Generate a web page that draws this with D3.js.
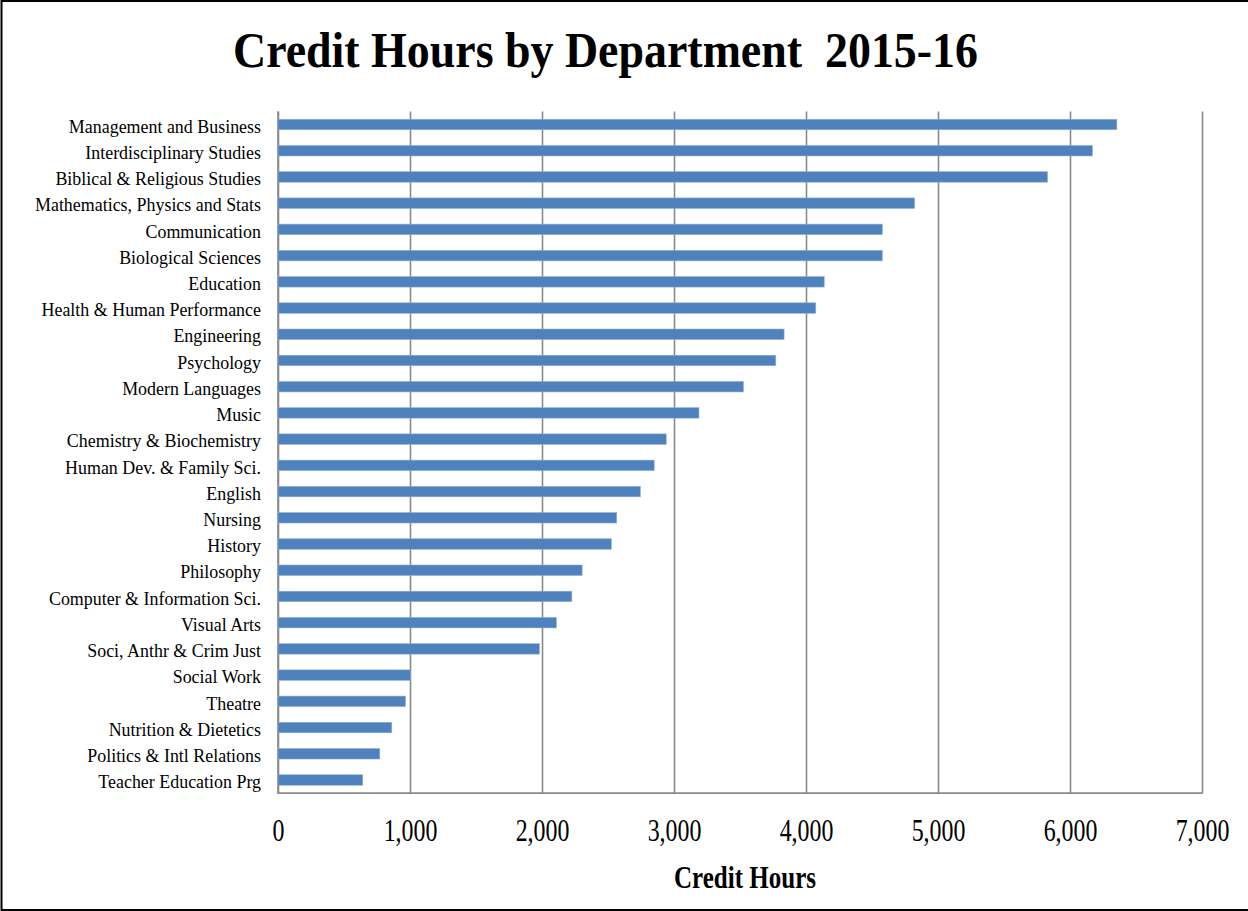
<!DOCTYPE html>
<html>
<head>
<meta charset="utf-8">
<script src="https://cdn.jsdelivr.net/npm/d3@7"></script>
<style>
  html, body { margin: 0; padding: 0; background: #fff; }
  svg { display: block; }
</style>
</head>
<body>
<svg id="chart" width="1248" height="911"></svg>
<script>
const categories = [
  "Management and Business",
  "Interdisciplinary Studies",
  "Biblical & Religious Studies",
  "Mathematics, Physics and Stats",
  "Communication",
  "Biological Sciences",
  "Education",
  "Health & Human Performance",
  "Engineering",
  "Psychology",
  "Modern Languages",
  "Music",
  "Chemistry & Biochemistry",
  "Human Dev. & Family Sci.",
  "English",
  "Nursing",
  "History",
  "Philosophy",
  "Computer & Information Sci.",
  "Visual Arts",
  "Soci, Anthr & Crim Just",
  "Social Work",
  "Theatre",
  "Nutrition & Dietetics",
  "Politics & Intl Relations",
  "Teacher Education Prg"
];
const creditHours = [
  6355, 6170, 5830, 4823, 4578, 4578, 4138, 4074, 3834, 3771, 3526,
  3189, 2941, 2850, 2745, 2566, 2525, 2304, 2226, 2109, 1980,
  1004, 966, 862, 771, 642
];
const xTicks = [0, 1000, 2000, 3000, 4000, 5000, 6000, 7000];
const titleText = "Credit Hours by Department\u00A0\u00A02015-16";
const xAxisTitle = "Credit Hours";

(function () {
const svg = d3.select("#chart");
const pLeft = 278, pRight = 1202, pTop = 111.4, pBottom = 793.1;

// frame
svg.append("rect")
  .attr("x", 1.5).attr("y", 1).attr("width", 1248).attr("height", 909)
  .attr("fill", "#fff").attr("stroke", "#000").attr("stroke-width", 2);

const x = d3.scaleLinear().domain([0, 7000]).range([pLeft, pRight]);
const y = d3.scaleBand().domain(categories).range([pTop, pBottom]).paddingInner(0.6).paddingOuter(0.3);

// gridlines + bottom tick labels
const gx = svg.append("g")
  .attr("transform", `translate(0,${pBottom})`)
  .call(d3.axisBottom(x).tickValues(xTicks).tickSize(-(pBottom - pTop)).tickPadding(0).tickFormat(d3.format(",")));
gx.select(".domain").remove();
gx.selectAll(".tick line").attr("stroke", "#8a8a8a").attr("stroke-width", 1.6);
gx.selectAll(".tick text")
  .attr("fill", "#000")
  .attr("font-family", "'Liberation Serif', 'Times New Roman', serif")
  .attr("font-size", 31)
  .attr("y", 47.5).attr("dy", 0)
  .attr("transform", "scale(0.77,1)");

// axis lines
svg.append("line").attr("x1", pLeft).attr("x2", pLeft).attr("y1", pTop).attr("y2", pBottom + 0.8)
  .attr("stroke", "#8a8a8a").attr("stroke-width", 1.6);
svg.append("line").attr("x1", pLeft).attr("x2", pRight + 0.8).attr("y1", pBottom).attr("y2", pBottom)
  .attr("stroke", "#8a8a8a").attr("stroke-width", 1.6);

// bars
svg.append("g").selectAll("rect")
  .data(categories)
  .join("rect")
  .attr("x", x(0))
  .attr("y", d => y(d))
  .attr("width", (d, i) => x(creditHours[i]) - x(0))
  .attr("height", y.bandwidth())
  .attr("fill", "#4F81BD")
  .attr("stroke", "#8EB0DA")
  .attr("stroke-width", 0.6);

// category labels
const sx = 0.92;
const gy = svg.append("g")
  .attr("transform", `translate(${pLeft},0)`)
  .call(d3.axisLeft(y).tickSize(0).tickPadding(0));
gy.select(".domain").remove();
gy.selectAll(".tick text")
  .attr("fill", "#000")
  .attr("font-family", "'Liberation Serif', 'Times New Roman', serif")
  .attr("font-size", 19.5)
  .attr("x", -17 / sx)
  .attr("dy", 0)
  .attr("y", 8.2)
  .attr("transform", `scale(${sx},1)`);

// title
svg.append("text")
  .attr("x", 605.5).attr("y", 67)
  .attr("text-anchor", "middle")
  .attr("font-family", "'Liberation Serif', 'Times New Roman', serif")
  .attr("font-weight", "bold")
  .attr("font-size", 50)
  .attr("textLength", 745)
  .attr("lengthAdjust", "spacingAndGlyphs")
  .text(titleText);

// x axis title
svg.append("text")
  .attr("x", 745).attr("y", 888)
  .attr("text-anchor", "middle")
  .attr("font-family", "'Liberation Serif', 'Times New Roman', serif")
  .attr("font-weight", "bold")
  .attr("font-size", 31)
  .attr("textLength", 142)
  .attr("lengthAdjust", "spacingAndGlyphs")
  .text(xAxisTitle);
})();
</script>
</body>
</html>
